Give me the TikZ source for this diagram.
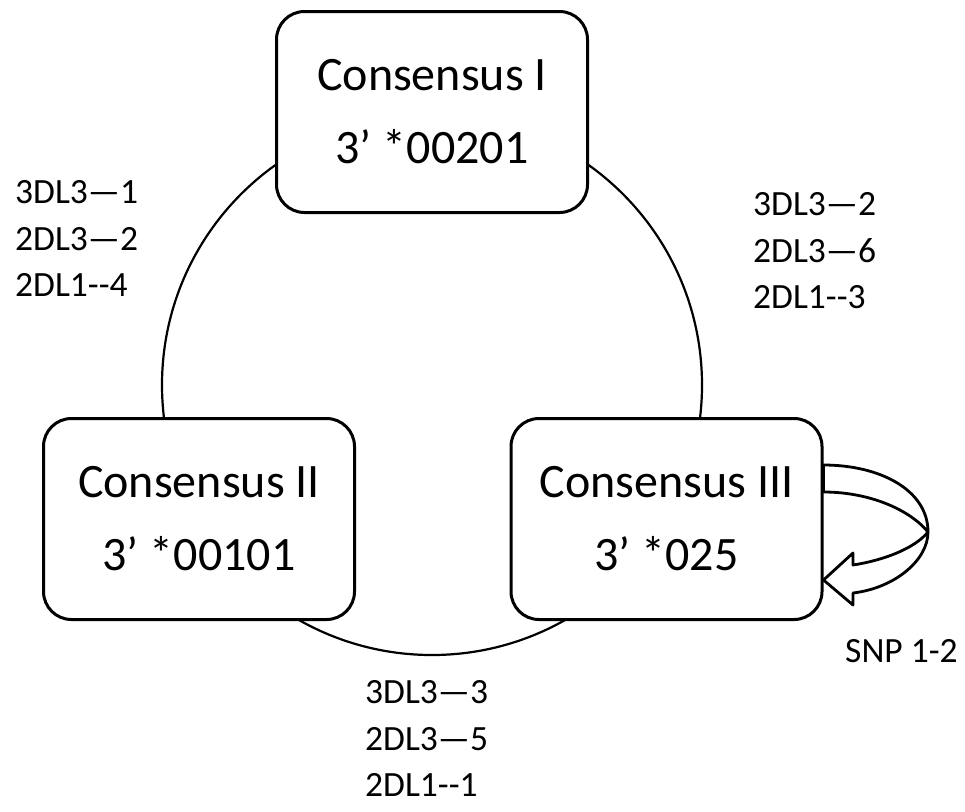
\documentclass[tikz,border=0pt]{standalone}
\usepackage{fontspec}
\setmainfont{Carlito}
\begin{document}
\begin{tikzpicture}[x=1pt, y=-1pt,
    consbox/.style={draw, fill=white, line width=3pt, rounded corners=28pt,
        minimum width=311pt, minimum height=201pt, align=center,
        font=\fontsize{48}{73}\selectfont},
    sidelbl/.style={anchor=north west, inner sep=0pt, align=left,
        font=\fontsize{35.5}{46.5}\selectfont}]
    \useasboundingbox (0, 0) rectangle (965, 811);
    % ring behind the three boxes
    \coordinate (ring) at (432, 385);
    \draw[line width=2.2pt] (ring) circle (270);
    \node[consbox] (cI) at (432, 112) {Consensus I\\3’ *00201};
    \node[consbox] (cII) at (199, 519) {Consensus II\\3’ *00101};
    \node[consbox] (cIII) at (666.5, 519) {Consensus III\\3’ *025};
    % counts on each arc
    \node[sidelbl] (lblA) at (15, 180.5) {3DL3—1\\2DL3—2\\2DL1-{}-4};
    \node[sidelbl] (lblB) at (753, 192.5) {3DL3—2\\2DL3—6\\2DL1-{}-3};
    \node[sidelbl] (lblC) at (365, 680.5) {3DL3—3\\2DL3—5\\2DL1-{}-1};
    % self loop of Consensus III
    \draw[line width=2.8pt, fill=white, line join=round]
        (cIII.east |- 0, 465) .. controls (880, 465) and (928, 490) .. (928, 532)
        .. controls (928, 560) and (895, 588) .. (853, 593)
        -- (853, 605) -- (cIII.east |- 0, 580) -- (853, 553) -- (853, 565)
        .. controls (885, 560) and (915, 548) .. (928, 532)
        .. controls (910, 510) and (870, 492) .. (cIII.east |- 0, 492) -- cycle;
    \node[anchor=base west, inner sep=0pt, font=\fontsize{35.5}{40}\selectfont] (snp)
        at (845, 662) {SNP 1-2};
\end{tikzpicture}
\end{document}
